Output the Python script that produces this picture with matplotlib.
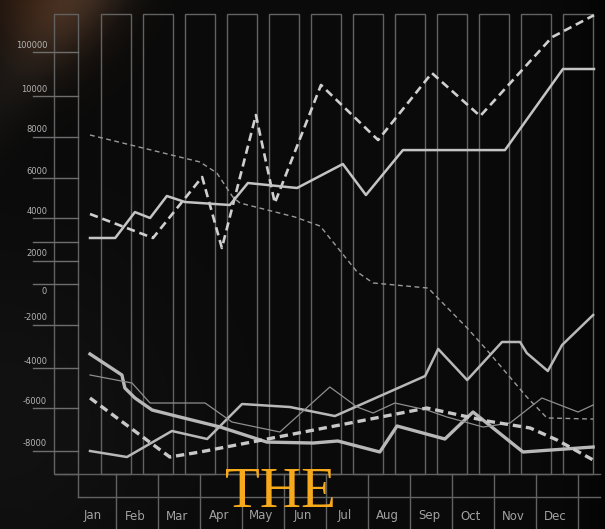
import matplotlib
matplotlib.use('Agg')
import matplotlib.pyplot as plt
import matplotlib.transforms as mtransforms
from matplotlib.patches import Rectangle
import numpy as np

plt.rcParams['lines.scale_dashes'] = False

MONTHS = ['Jan', 'Feb', 'Mar', 'Apr', 'May', 'Jun',
          'Jul', 'Aug', 'Sep', 'Oct', 'Nov', 'Dec']
Y_TICKS = [-8000, -6000, -4000, -2000, 0, 2000, 4000, 6000, 8000, 10000, 100000]

# x is in months from the start of Jan (0) to the end of Dec (12)
top_dash_x = [0, 1.5, 2.67, 3.14, 3.95, 4.4, 5.5, 6.86, 8.14, 9.29, 11.0, 12.0]
top_dash_y = [3860, 2745, 5700, 2280, 8730, 4400, 18200, 7510, 42700, 8680, 116000, 161000]

top_solid_x = [0, 0.6, 1.07, 1.43, 1.83, 2.26, 3.33, 3.76, 4.93, 6.02, 6.57, 7.45, 9.88, 11.26, 12.0]
top_solid_y = [2745, 2745, 3950, 3675, 4750, 4450, 4300, 5400, 5150, 6340, 4800, 7020, 7020, 50900, 50900]

thin_dash_x = [0, 2.62, 3.02, 3.4, 3.57, 4.88, 5.48, 6.36, 6.74, 8.05, 8.98, 9.45, 10.4, 10.88, 11.98]
thin_dash_y = [7756, 6440, 5900, 4700, 4400, 3720, 3300, 1030, 434, 160, -2465, -3490, -5800, -6790, -6840]

low_thick_x = [0, 0.76, 0.83, 1.07, 1.48, 2.14, 3.1, 4.21, 5.31, 5.9, 6.9, 7.31, 8.45, 9.12, 10.31, 11.98]
low_thick_y = [-3674, -4700, -5350, -5850, -6420, -6745, -7210, -7910, -7955, -7860, -8372, -7163, -7768, -6512, -8372, -8140]

rise_x = [0, 0.88, 1.95, 2.79, 3.62, 4.76, 5.83, 7.98, 8.29, 8.98, 9.81, 10.24, 10.4, 10.9, 11.24, 11.98]
rise_y = [-8325, -8605, -7395, -7767, -6140, -6280, -6700, -4750, -3440, -4950, -3116, -3116, -3630, -4500, -3255, -1776]

thin_x = [0, 1.0, 1.43, 2.74, 3.38, 4.52, 5.71, 6.36, 6.74, 7.26, 8.02, 8.5, 9.36, 10.0, 10.76, 11.62, 11.98]
thin_y = [-4700, -5100, -6093, -6093, -6977, -7442, -5300, -6280, -6558, -6093, -6420, -6745, -7210, -7023, -5850, -6512, -6186]

low_dash_x = [0, 1.9, 2.62, 5.95, 8.02, 9.45, 10.48, 11.12, 11.98]
low_dash_y = [-5850, -8605, -8372, -7116, -6326, -6930, -7256, -7814, -8744]

# the printed value axis is not evenly spaced, so anchor it to label heights
AXIS_VALS = [-30000, -8000, -6000, -4000, -2000, 0, 2000, 4000, 6000, 8000, 10000, 100000, 1000000]
AXIS_POS = np.array([917, 444, 401, 361, 318, 291, 254, 211, 171, 130, 89, 45, -395], dtype=float)


def fwd(v):
    return -np.interp(v, AXIS_VALS, AXIS_POS)


def inv(p):
    return np.interp(p, -AXIS_POS, AXIS_VALS)


W, H = 605, 529
fig = plt.figure(figsize=(W / 100, H / 100), dpi=100)

# background: near black, warm smudge and a soft diagonal haze top-left
yy, xx = np.mgrid[0:H, 0:W]
img = np.zeros((H, W, 3)) + 0.04
glow = np.exp(-((xx - 45) ** 2 + (yy + 5) ** 2) / (2 * 45 ** 2))
img += glow[..., None] * np.array([0.16, 0.08, 0.03])
haze = np.exp(-((xx + 0.8 * yy - 80) ** 2) / (2 * 32 ** 2)) * np.exp(-yy / 120)
img += haze[..., None] * np.array([0.11, 0.09, 0.075])
lower = np.exp(-((xx) ** 2 + (yy - 420) ** 2) / (2 * 120 ** 2))
img += lower[..., None] * 0.03
shade = np.exp(-((W - xx) / 40.0))
img *= (1 - 0.6 * shade)[..., None]
img = np.clip(img, 0, 1)
bg = fig.add_axes([0, 0, 1, 1])
bg.imshow(img, aspect='auto', interpolation='bilinear')
bg.axis('off')

ax = fig.add_axes([0, 0, 1, 1])
ax.patch.set_alpha(0)
ax.set_yscale('function', functions=(fwd, inv))
ax.set_xlim(-90 / 42, (W - 90) / 42)
ax.set_ylim(inv(-H), inv(0))
ax.axis('off')

frame = '#626262'
blend = mtransforms.blended_transform_factory(ax.transData, ax.transAxes)
top_f, bot_f, band_f = 1 - 14 / H, 1 - 474 / H, 1 - 497 / H

# month columns
for i in range(len(MONTHS)):
    ax.add_patch(Rectangle((i + 0.26, bot_f), 0.71, top_f - bot_f, transform=blend,
                           fill=False, ec=frame, lw=1.0, zorder=1))
# axis box and rules (rules sit just under each label, except around zero)
ax.add_patch(Rectangle((-0.857, bot_f), 0.571, top_f - bot_f, transform=blend,
                       fill=False, ec=frame, lw=1.0, zorder=1))


def rule_at(v, dy_px):
    tr = ax.transData + mtransforms.ScaledTranslation(0, dy_px / 100, fig.dpi_scale_trans)
    ax.plot([-1.36, -0.29], [v, v], color='#6e6e6e', lw=1.0, transform=tr, zorder=1)


for v in Y_TICKS:
    rule_at(v, 7 if v == 0 else -7)
    if v == 2000:
        rule_at(v, 12)
    ax.text(-1.02, v, f'{v}', ha='right', va='center', fontsize=6,
            color='#b4b4b4', zorder=3)

# bottom band
ax.plot([-0.83, 12.14], [bot_f, bot_f], color=frame, lw=1.0, transform=blend)
ax.plot([-0.29, 12.14], [band_f, band_f], color=frame, lw=1.0, transform=blend)
ax.plot([-0.29, -0.29], [bot_f, band_f], color=frame, lw=1.0, transform=blend)
for k in range(1, len(MONTHS) + 1):
    ax.plot([k - 0.38, k - 0.38], [bot_f, 0], color=frame, lw=1.0, transform=blend)
for i, m in enumerate(MONTHS):
    ax.text(i + 0.07, 1 - 516 / H, m, ha='center', va='center', fontsize=8.5,
            color='#a2a2a2', transform=blend)

# series
ax.plot(top_dash_x, top_dash_y, color='#cfcfcf', lw=1.9, dashes=(6, 3.5), zorder=4)
ax.plot(top_solid_x, top_solid_y, color='#c4c4c4', lw=1.8, zorder=4)
ax.plot(thin_dash_x, thin_dash_y, color='#9a9a9a', lw=1.0, dashes=(3.5, 2.5), zorder=4)
ax.plot(low_thick_x, low_thick_y, color='#b8b8b8', lw=2.4, zorder=4)
ax.plot(rise_x, rise_y, color='#b8b8b8', lw=1.8, zorder=4)
ax.plot(thin_x, thin_y, color='#8e8e8e', lw=0.9, zorder=4)
ax.plot(low_dash_x, low_dash_y, color='#c8c8c8', lw=2.4, dashes=(6, 3.5), zorder=4)

fig.text(280 / W, 1 - 507 / H, 'THE', ha='center', va='baseline',
         family='Liberation Serif', fontsize=41, color='#f6a91b', zorder=5)

fig.savefig('out.png', dpi=100, facecolor='#0b0b0b')
